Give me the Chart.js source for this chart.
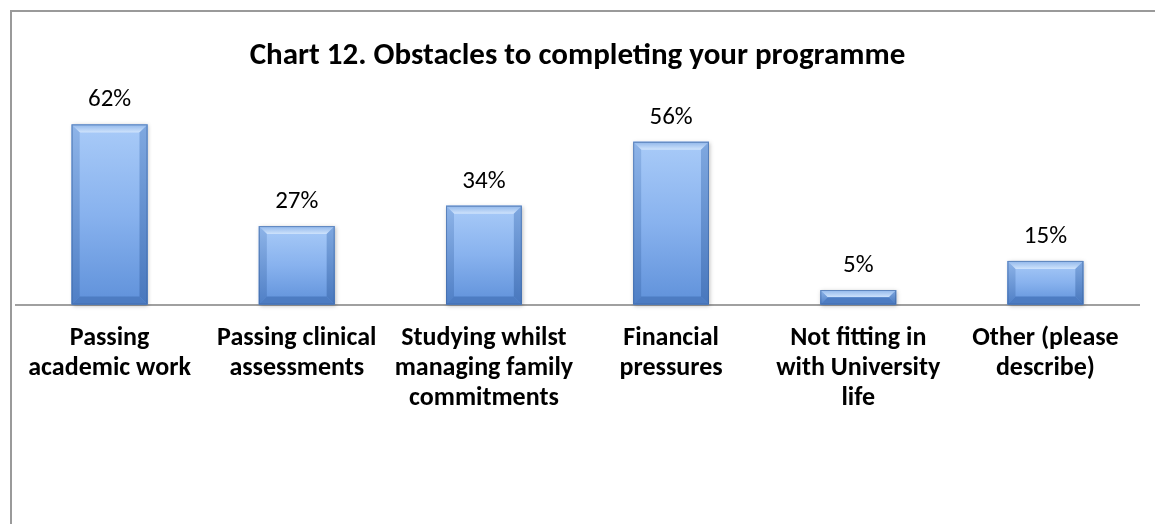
<!DOCTYPE html>
<html>
<head>
<meta charset="utf-8">
<title>Chart 12. Obstacles to completing your programme</title>
<script src="https://cdn.jsdelivr.net/npm/chart.js"></script>
<style>
  html, body { margin: 0; padding: 0; background: #fff; }
  #frame {
    position: absolute; left: 10px; top: 10px; right: -10px; bottom: -10px;
    border-left: 2px solid #9a9a9a; border-top: 2px solid #9a9a9a;
  }
  #wrap { position: absolute; left: 0; top: 0; width: 1155px; height: 524px; }
</style>
</head>
<body>
<div id="frame"></div>
<div id="wrap"><canvas id="obstaclesChart" width="1155" height="524"></canvas></div>
<script>
// Obstacles to completing the programme, share of respondents (%)
const categories = [
    ['Passing', 'academic work'],
    ['Passing clinical', 'assessments'],
    ['Studying whilst', 'managing family', 'commitments'],
    ['Financial', 'pressures'],
    ['Not fitting in', 'with University', 'life'],
    ['Other (please', 'describe)']
];
const percentages = [62, 27, 34, 56, 5, 15];

const FONT = 'Carlito, Calibri, Lato, sans-serif';

// Paints a bevelled, gradient face over each bar the library has laid out
const bevelBars = {
    id: 'bevelBars',
    afterDatasetsDraw(chart) {
        const ctx = chart.ctx;
        chart.getDatasetMeta(0).data.forEach(bar => {
            const { x, y, base, width } = bar.getProps(['x', 'y', 'base', 'width'], true);
            const l = x - width / 2, r = x + width / 2, t = y, b = base;
            const h = b - t;
            const bv = Math.min(8, h / 2);
            ctx.save();
            // soft drop shadow
            ctx.shadowColor = 'rgba(0,0,0,0.25)';
            ctx.shadowBlur = 4;
            ctx.shadowOffsetX = 1;
            ctx.shadowOffsetY = 1;
            ctx.fillStyle = '#5a86c8';
            ctx.fillRect(l, t, width, h);
            ctx.restore();

            ctx.save();
            // body
            const g = ctx.createLinearGradient(0, t, 0, b);
            g.addColorStop(0, '#a9cbf8');
            g.addColorStop(0.5, '#88b2ee');
            g.addColorStop(1, '#5f91da');
            ctx.fillStyle = g;
            ctx.fillRect(l, t, width, h);
            // top bevel
            ctx.beginPath();
            ctx.moveTo(l, t); ctx.lineTo(r, t); ctx.lineTo(r - bv, t + bv); ctx.lineTo(l + bv, t + bv);
            ctx.closePath();
            const gt = ctx.createLinearGradient(0, t, 0, t + bv);
            gt.addColorStop(0, '#8fb6ea');
            gt.addColorStop(1, '#cfe3fc');
            ctx.fillStyle = gt;
            ctx.fill();
            // left bevel
            ctx.beginPath();
            ctx.moveTo(l, t); ctx.lineTo(l + bv, t + bv); ctx.lineTo(l + bv, b - bv); ctx.lineTo(l, b);
            ctx.closePath();
            const gl = ctx.createLinearGradient(0, t, 0, b);
            gl.addColorStop(0, '#8eb4e8');
            gl.addColorStop(1, '#4f7fc6');
            ctx.fillStyle = gl;
            ctx.fill();
            // right bevel
            ctx.beginPath();
            ctx.moveTo(r, t); ctx.lineTo(r - bv, t + bv); ctx.lineTo(r - bv, b - bv); ctx.lineTo(r, b);
            ctx.closePath();
            const gr = ctx.createLinearGradient(0, t, 0, b);
            gr.addColorStop(0, '#7fa8e0');
            gr.addColorStop(1, '#4877bd');
            ctx.fillStyle = gr;
            ctx.fill();
            // bottom bevel
            ctx.beginPath();
            ctx.moveTo(l, b); ctx.lineTo(l + bv, b - bv); ctx.lineTo(r - bv, b - bv); ctx.lineTo(r, b);
            ctx.closePath();
            ctx.fillStyle = '#4d7cc2';
            ctx.fill();
            // outline
            ctx.strokeStyle = 'rgba(60,100,160,0.6)';
            ctx.lineWidth = 1;
            ctx.strokeRect(l + 0.5, t + 0.5, width - 1, h - 1);
            ctx.restore();
        });
    }
};

// Percentage labels above each bar
const valueLabels = {
    id: 'valueLabels',
    afterDatasetsDraw(chart) {
        const ctx = chart.ctx;
        const values = chart.data.datasets[0].data;
        ctx.save();
        ctx.font = '25px ' + FONT;
        ctx.fillStyle = '#000';
        ctx.textAlign = 'center';
        ctx.textBaseline = 'alphabetic';
        chart.getDatasetMeta(0).data.forEach((bar, i) => {
            ctx.fillText(values[i] + '%', bar.x, bar.y - 18);
        });
        ctx.restore();
    }
};

new Chart(document.getElementById('obstaclesChart'), {
    type: 'bar',
    data: {
        labels: categories,
        datasets: [{
            data: percentages,
            backgroundColor: '#6f9ee0',
            borderWidth: 0,
            categoryPercentage: 1,
            barPercentage: 0.405
        }]
    },
    options: {
        responsive: false,
        animation: false,
        layout: { padding: { left: 16, right: 16, top: 0, bottom: 99 } },
        plugins: {
            legend: { display: false },
            tooltip: { enabled: false },
            title: {
                display: true,
                text: 'Chart 12. Obstacles to completing your programme',
                color: '#000',
                font: { family: FONT, size: 31, weight: 'bold', lineHeight: 1.2 },
                padding: { top: 38, bottom: 26 }
            }
        },
        scales: {
            x: {
                grid: { display: false },
                border: { color: '#a0a0a0', width: 2 },
                ticks: {
                    color: '#000',
                    font: { family: FONT, size: 26, weight: 'bold', lineHeight: 1.16 },
                    padding: 11,
                    autoSkip: false,
                    maxRotation: 0
                }
            },
            y: {
                display: false,
                min: 0,
                max: 70
            }
        }
    },
    plugins: [bevelBars, valueLabels]
});
</script>
</body>
</html>
